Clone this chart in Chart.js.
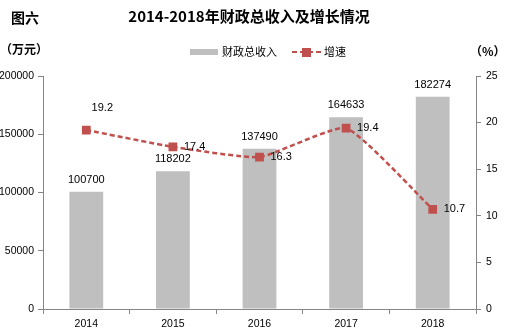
<!DOCTYPE html>
<html>
<head>
<meta charset="utf-8">
<script src="https://cdn.jsdelivr.net/npm/chart.js@4/dist/chart.umd.min.js"></script>
<style>
html,body{margin:0;padding:0;background:#fff}
#wrap{position:relative;width:513px;height:334px}
</style>
</head>
<body>
<div id="wrap"><canvas id="myChart" width="513" height="334"></canvas></div>
<script>
// chart data
const years = ['2014', '2015', '2016', '2017', '2018'];
const revenue = [100700, 118202, 137490, 164633, 182274];
const growth = [19.2, 17.4, 16.3, 19.4, 10.7];
const leftTicks = [0, 50000, 100000, 150000, 200000];
const rightTicks = [0, 5, 10, 15, 20, 25];
// where each growth label sits relative to its point
const growthLabelSide = ['top', 'right', 'right', 'right', 'right'];

const GREY = '#bfbfbf';
const RED = '#c0504d';
const AXIS = '#868686';
const NUM_FONT = '"Liberation Sans", Arial, sans-serif';
const CJK_FONT = '"Noto Sans CJK SC", sans-serif';

const textPlugin = {
  id: 'textPlugin',
  afterDatasetsDraw(chart) {
    const ctx = chart.ctx;
    ctx.save();
    ctx.fillStyle = '#000';
    ctx.font = '11px ' + NUM_FONT;
    // bar value labels
    const barMeta = chart.getDatasetMeta(1);
    barMeta.data.forEach((bar, i) => {
      ctx.textAlign = 'center';
      ctx.textBaseline = 'middle';
      ctx.fillText(String(revenue[i]), bar.x, bar.y - 12);
    });
    // growth labels
    const lineMeta = chart.getDatasetMeta(0);
    lineMeta.data.forEach((pt, i) => {
      ctx.textBaseline = 'middle';
      if (growthLabelSide[i] === 'top') {
        ctx.textAlign = 'center';
        ctx.fillText(growth[i].toFixed(1), pt.x + 16, pt.y - 22);
      } else {
        ctx.textAlign = 'left';
        ctx.fillText(growth[i].toFixed(1), pt.x + 11, pt.y);
      }
    });
    ctx.restore();
  },
  afterDraw(chart) {
    const ctx = chart.ctx;
    ctx.save();
    ctx.fillStyle = '#000';
    ctx.textBaseline = 'middle';
    // headings
    ctx.textAlign = 'left';
    ctx.font = 'bold 14px ' + CJK_FONT;
    ctx.fillText('图六', 11, 18);
    ctx.textAlign = 'center';
    ctx.font = 'bold 15px ' + CJK_FONT;
    ctx.fillText('2014-2018年财政总收入及增长情况', 249, 16);
    ctx.textAlign = 'left';
    ctx.font = 'bold 12px ' + CJK_FONT;
    ctx.fillText('（万元）', 0, 49);
    ctx.fillText('（%）', 470, 51);
    // legend
    ctx.fillStyle = GREY;
    ctx.fillRect(190, 49, 28, 6);
    ctx.fillStyle = '#000';
    ctx.font = '11px ' + CJK_FONT;
    ctx.fillText('财政总收入', 222, 52);
    ctx.strokeStyle = RED;
    ctx.lineWidth = 2;
    ctx.setLineDash([5, 3]);
    ctx.beginPath();
    ctx.moveTo(292, 52);
    ctx.lineTo(321, 52);
    ctx.stroke();
    ctx.setLineDash([]);
    ctx.fillStyle = RED;
    ctx.fillRect(302, 48, 9, 9);
    ctx.fillStyle = '#000';
    ctx.fillText('增速', 324, 52);
    ctx.restore();
  }
};

const plainTick = v => String(v);

const ctx = document.getElementById('myChart').getContext('2d');
new Chart(ctx, {
  data: {
    labels: years,
    datasets: [
      {
        type: 'line',
        label: '增速',
        data: growth,
        yAxisID: 'y1',
        order: 0,
        borderColor: RED,
        borderWidth: 2.5,
        borderDash: [5, 3],
        tension: 0.15,
        pointStyle: 'rect',
        pointRadius: 6.2,
        pointBackgroundColor: RED,
        pointBorderColor: RED,
        pointBorderWidth: 0
      },
      {
        type: 'bar',
        label: '财政总收入',
        data: revenue,
        yAxisID: 'y',
        order: 1,
        backgroundColor: GREY,
        categoryPercentage: 1,
        barPercentage: 0.39
      }
    ]
  },
  options: {
    responsive: false,
    animation: false,
    layout: { padding: { top: 76, left: 0, right: 0, bottom: 0 } },
    plugins: {
      legend: { display: false },
      title: { display: false },
      tooltip: { enabled: false }
    },
    scales: {
      x: {
        offset: true,
        grid: { offset: true, drawOnChartArea: false, tickLength: 5, color: AXIS },
        border: { color: AXIS },
        ticks: { color: '#000', padding: 4, font: { family: NUM_FONT, size: 10.5 } },
        afterFit(scale) { scale.height = 25; }
      },
      y: {
        position: 'left',
        min: 0,
        max: 200000,
        afterBuildTicks(scale) { scale.ticks = leftTicks.map(v => ({ value: v })); },
        grid: { drawOnChartArea: false, tickLength: 5, color: AXIS },
        border: { color: AXIS },
        ticks: { color: '#000', padding: 4, callback: plainTick, font: { family: NUM_FONT, size: 10.5 } },
        afterFit(scale) { scale.width = 43; }
      },
      y1: {
        position: 'right',
        min: 0,
        max: 25,
        afterBuildTicks(scale) { scale.ticks = rightTicks.map(v => ({ value: v })); },
        grid: { drawOnChartArea: false, tickLength: 5, color: AXIS },
        border: { color: AXIS },
        ticks: { color: '#000', padding: 5, callback: plainTick, font: { family: NUM_FONT, size: 10.5 } },
        afterFit(scale) { scale.width = 37; }
      }
    }
  },
  plugins: [textPlugin]
});
</script>
</body>
</html>
